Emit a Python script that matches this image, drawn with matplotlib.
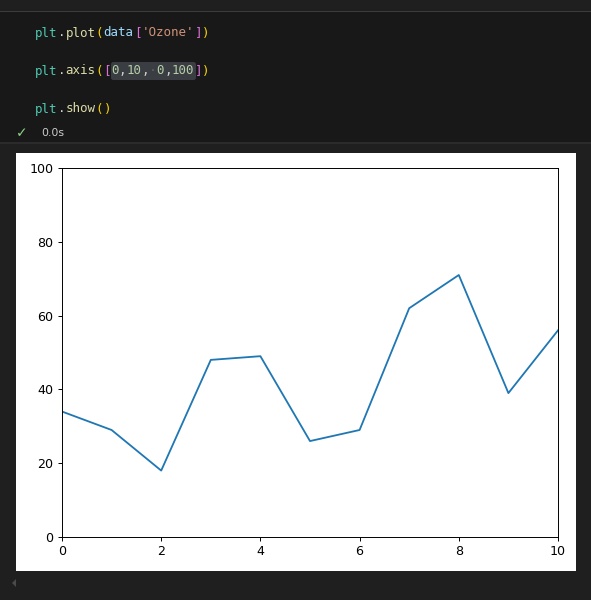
import matplotlib
matplotlib.use("Agg")
import matplotlib.pyplot as plt
from matplotlib.patches import Rectangle, FancyBboxPatch, Polygon
import numpy as np

# ---- data ----
ozone = [34, 29, 18, 48, 49, 26, 29, 62, 71, 39, 56]
x_index = list(range(len(ozone)))
axis_limits = [0, 10, 0, 100]
x_ticks = [0, 2, 4, 6, 8, 10]
y_ticks = [0, 20, 40, 60, 80, 100]

W, H = 591, 600
DPI = 100
fig = plt.figure(figsize=(W / DPI, H / DPI), dpi=DPI)
fig.patch.set_facecolor("#1f1f1f")

def fx(x):
    return x / W

def fy(y):
    return 1 - y / H

def rect(x0, y0, x1, y1, color, **kw):
    fig.patches.append(Rectangle((fx(x0), fy(y1)), fx(x1) - fx(x0), fy(y0) - fy(y1),
                                 transform=fig.transFigure, facecolor=color,
                                 edgecolor="none", **kw))

# cell background and separator lines
rect(0, 11, W, 143, "#181818", zorder=0)
rect(0, 11, W, 12.2, "#3c3c3c", zorder=1)
rect(0, 142, W, 143.5, "#2b2b2b", zorder=1)

# highlight behind the axis list
hl = FancyBboxPatch((fx(111), fy(80)), fx(196) - fx(111), fy(62) - fy(80),
                    boxstyle="round,pad=0,rounding_size=0.004",
                    transform=fig.transFigure, facecolor="#3a3d41",
                    edgecolor="none", zorder=2)
fig.patches.append(hl)

# code text
TEAL = "#4ec9b0"; WHITE = "#d4d4d4"; FUNC = "#dcdcaa"; GOLD = "#ffd700"
VAR = "#9cdcfe"; MAG = "#da70d6"; STR = "#ce9178"; NUM = "#b5cea8"
lines = [
    (33, [("plt", TEAL), (".", WHITE), ("plot", FUNC), ("(", GOLD), ("data", VAR),
          ("[", MAG), ("'Ozone'", STR), ("]", MAG), (")", GOLD)]),
    (71, [("plt", TEAL), (".", WHITE), ("axis", FUNC), ("(", GOLD), ("[", MAG),
          ("0", NUM), (",", WHITE), ("10", NUM), (",", WHITE), (" ", WHITE),
          ("0", NUM), (",", WHITE), ("100", NUM), ("]", MAG), (")", GOLD)]),
    (109, [("plt", TEAL), (".", WHITE), ("show", FUNC), ("(", GOLD), (")", GOLD)]),
]
x0 = 35
cw = 7.6
mono = "DejaVu Sans Mono"
mono_fs = cw / (0.6021 * DPI / 72) - 0.05
for y, toks in lines:
    i = 0
    for s, c in toks:
        if s.strip():
            fig.text(fx(x0 + i * cw), fy(y), s, color=c, family=mono, fontsize=mono_fs,
                     ha="left", va="center", zorder=3)
        i += len(s)
# whitespace dot
fig.text(fx(x0 + 15 * cw + cw / 2), fy(71), "·", color="#6a6a6a", family=mono,
         fontsize=7, ha="center", va="center", zorder=3)

# execution status
fig.text(fx(22), fy(133), "✓", color="#89d185", family="DejaVu Sans", fontsize=10,
         ha="center", va="center")
fig.text(fx(41), fy(133), "0.0s", color="#cccccc", family="DejaVu Sans", fontsize=7.8,
         ha="left", va="center")

# white output box
rect(16, 153, 576, 571, "white", zorder=0.5)

# scroll arrow
fig.patches.append(Polygon([[fx(12), fy(583)], [fx(16), fy(579)], [fx(16), fy(587)]],
                           closed=True, transform=fig.transFigure,
                           facecolor="#4a4a4a", edgecolor="none"))

# the plot
ax = fig.add_axes([fx(62), fy(537), fx(558) - fx(62), fy(168) - fy(537)])
ax.set_zorder(5)
ax.set_facecolor("white")
ax.plot(x_index, ozone, color="#1f77b4", linewidth=1.31)
ax.axis(axis_limits)
ax.set_xticks(x_ticks)
ax.set_yticks(y_ticks)
for sp in ax.spines.values():
    sp.set_linewidth(0.7)
ax.tick_params(labelsize=9.1, length=3.06, width=0.7, pad=3.0, colors="black")

fig.savefig("out.png", dpi=DPI, facecolor=fig.get_facecolor())
